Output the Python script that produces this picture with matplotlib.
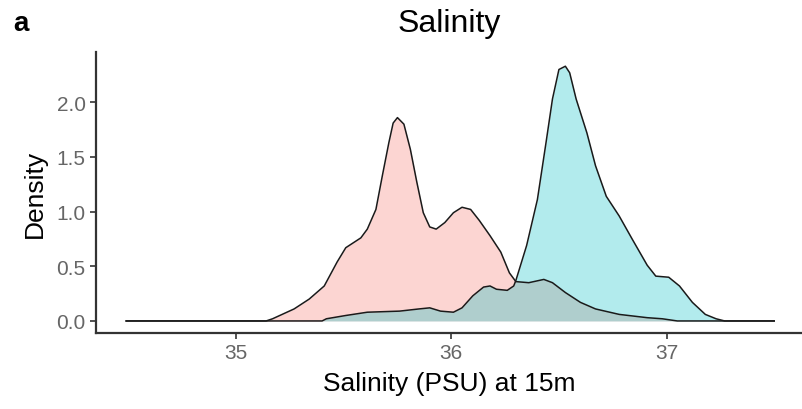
import numpy as np
from matplotlib import pyplot as plt

plt.rcParams['font.family'] = ['Liberation Sans', 'DejaVu Sans']

# density estimates per group, salinity in PSU
x_red = [34.49, 35.14, 35.17, 35.27, 35.34, 35.41, 35.47, 35.51, 35.58, 35.61,
         35.65, 35.68, 35.71, 35.73, 35.75, 35.78, 35.81, 35.84, 35.87, 35.90,
         35.93, 35.97, 36.01, 36.05, 36.09, 36.13, 36.18, 36.23, 36.27, 36.30,
         36.36, 36.43, 36.47, 36.53, 36.60, 36.67, 36.78, 36.91, 36.98, 37.05, 37.50]
d_red = [0.0, 0.0, 0.02, 0.11, 0.20, 0.32, 0.54, 0.67, 0.76, 0.84,
         1.02, 1.33, 1.63, 1.81, 1.86, 1.80, 1.57, 1.27, 0.99, 0.86,
         0.84, 0.90, 0.99, 1.04, 1.02, 0.92, 0.78, 0.63, 0.44, 0.36,
         0.35, 0.38, 0.35, 0.26, 0.17, 0.11, 0.06, 0.03, 0.02, 0.0, 0.0]

x_teal = [34.49, 35.40, 35.42, 35.51, 35.61, 35.76, 35.85, 35.90, 35.95, 36.01,
          36.05, 36.10, 36.15, 36.18, 36.21, 36.26, 36.29, 36.30, 36.35, 36.40,
          36.44, 36.47, 36.50, 36.53, 36.55, 36.58, 36.63, 36.67, 36.72, 36.78,
          36.84, 36.91, 36.95, 37.01, 37.06, 37.12, 37.18, 37.23, 37.27, 37.50]
d_teal = [0.0, 0.0, 0.02, 0.05, 0.08, 0.09, 0.11, 0.12, 0.09, 0.08,
          0.12, 0.23, 0.31, 0.32, 0.29, 0.28, 0.32, 0.37, 0.69, 1.11,
          1.63, 2.03, 2.30, 2.33, 2.27, 2.03, 1.72, 1.42, 1.14, 0.96,
          0.75, 0.51, 0.41, 0.40, 0.32, 0.17, 0.06, 0.02, 0.0, 0.0]

fig = plt.figure(figsize=(8.03, 4.10), dpi=100)
ax = fig.add_axes([0.1196, 0.1854, 0.8794, 0.6853])

for xs, ds, col in [(x_red, d_red, '#F8766D'), (x_teal, d_teal, '#00BFC4')]:
    ax.fill_between(xs, ds, 0, color=col, alpha=0.3, lw=0)
    ax.plot(xs, ds, color='#1a1a1a', lw=1.1)

ax.set_xlim(34.35, 37.63)
ax.set_ylim(-0.11, 2.46)
ax.set_xticks([35, 36, 37])
ax.set_yticks([0.0, 0.5, 1.0, 1.5, 2.0])
ax.set_yticklabels(['0.0', '0.5', '1.0', '1.5', '2.0'])

for s in ['top', 'right']:
    ax.spines[s].set_visible(False)
for s in ['left', 'bottom']:
    ax.spines[s].set_color('#333333')
    ax.spines[s].set_linewidth(1.6)
ax.tick_params(colors='#333333', labelcolor='#666666', labelsize=15, length=4, width=1.2)

ax.set_xlabel('Salinity (PSU) at 15m', fontsize=19, labelpad=6)
ax.set_ylabel('Density', fontsize=19, labelpad=7)
ax.set_title('Salinity', fontsize=23, pad=15)
fig.text(0.016, 0.925, 'a', fontsize=20, fontweight='bold')

fig.savefig('out.png', dpi=100)
